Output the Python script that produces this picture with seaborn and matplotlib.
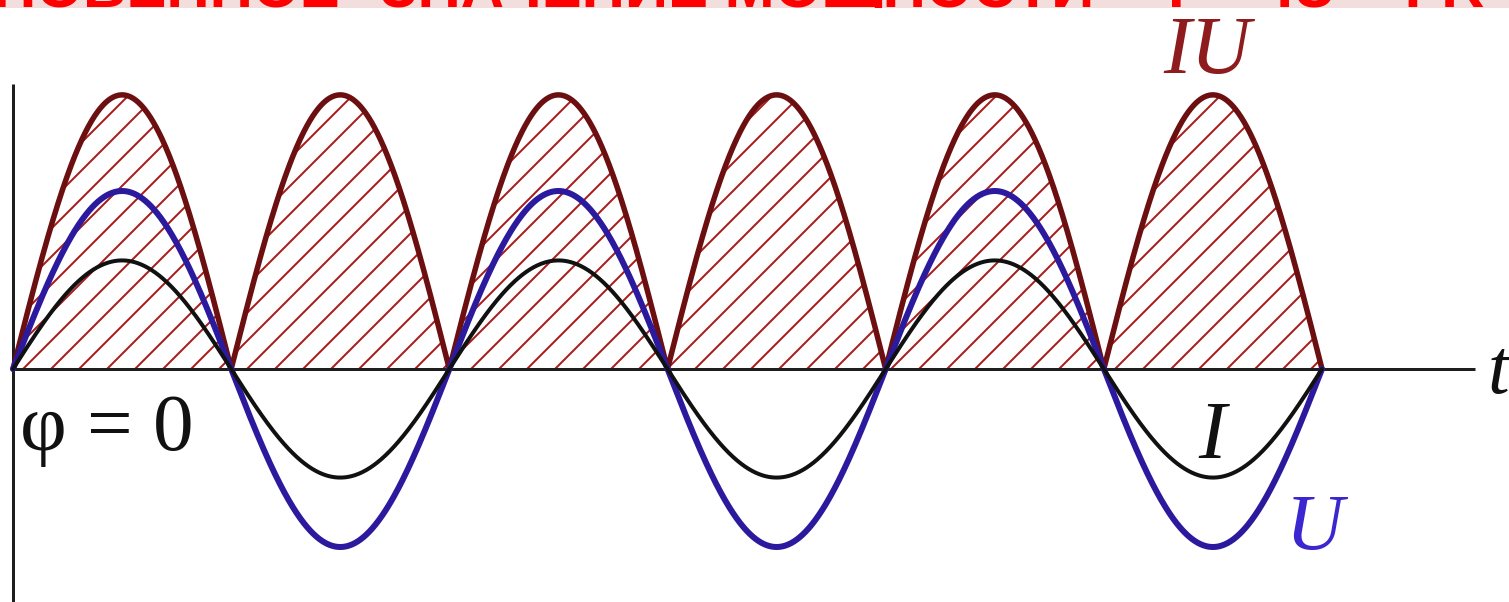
import numpy as np
import pandas as pd
import matplotlib
matplotlib.use("Agg")
import matplotlib.pyplot as plt
from matplotlib.patches import Rectangle
import seaborn as sns

# ---- values -------------------------------------------------------------
half_periods = 6          # number of half-cycles shown along t
U_amp = 1.0               # voltage amplitude
I_amp = 0.61              # current amplitude
P_amp = 1.54              # instantaneous power peak
t_axis_end = 6.70         # where the t axis line ends
v_axis_top = 1.60         # top of the vertical axis line

title_left = "МГНОВЕННОЕ"
title_mid = "ЗНАЧЕНИЕ МОЩНОСТИ"
title_right = "Р = IU = I²R"

# ---- styling ------------------------------------------------------------
W, H = 1509, 602
DPI = 168
PT = 72 / DPI             # points per pixel

sns.set_theme(style="white")
plt.rcParams["font.family"] = ["Liberation Serif", "DejaVu Serif"]
plt.rcParams["hatch.linewidth"] = 2.0 * PT

col_power_edge = "#6c0f10"
col_hatch = "#a81c1c"
col_u = "#2c1a9e"
col_i = "#111111"
col_axis = "#1e1e1e"

fig = plt.figure(figsize=(W / DPI, H / DPI), dpi=DPI)
fig.patch.set_facecolor("white")
ax = fig.add_axes([0, 0, 1, 1])
ax.set_facecolor("white")

# phase grid in half-periods
t = np.linspace(0, half_periods, 1801)
s = np.sin(np.pi * t)
df = pd.DataFrame({
    "t": t,
    "U": U_amp * s,
    "I": I_amp * s,
    "P": P_amp * np.abs(s),
})

# hatched power lobes
ax.fill_between(df["t"], 0, df["P"], facecolor="none", edgecolor=col_hatch,
                hatch="//", linewidth=0, zorder=1)

# axes lines
ax.hlines(0, 0, t_axis_end, color=col_axis, lw=3 * PT, zorder=2)
ax.vlines(0, -2, v_axis_top, color=col_axis, lw=3 * PT, zorder=2)

sns.lineplot(data=df, x="t", y="P", color=col_power_edge, lw=5.5 * PT,
             ax=ax, zorder=3, errorbar=None, legend=False)
sns.lineplot(data=df, x="t", y="U", color=col_u, lw=6 * PT,
             ax=ax, zorder=4, errorbar=None, legend=False)
sns.lineplot(data=df, x="t", y="I", color=col_i, lw=4 * PT,
             ax=ax, zorder=5, errorbar=None, legend=False)

# pixel-aligned view
x0_px, unit_x = 13, (1322 - 13) / half_periods
y0_px, unit_y = 369, 178
ax.set_xlim(-x0_px / unit_x, (W - x0_px) / unit_x)
ax.set_ylim(-(H - y0_px) / unit_y, y0_px / unit_y)
ax.axis("off")


def px(x, y):
    return x / W, 1 - y / H


serif_it = dict(family=["Liberation Serif", "DejaVu Serif"], style="italic")
ax.text(*px(1163, 73), "IU", transform=ax.transAxes, fontsize=83 * PT,
        color="#8e1b1d", va="baseline", ha="left", **serif_it)
ax.text(*px(1488, 393), "t", transform=ax.transAxes, fontsize=78 * PT,
        color="#111111", va="baseline", ha="left", **serif_it)
ax.text(*px(1198, 458), "I", transform=ax.transAxes, fontsize=83 * PT,
        color="#111111", va="baseline", ha="left", **serif_it)
ax.text(*px(1286, 550), "U", transform=ax.transAxes, fontsize=80 * PT,
        color="#3a27cf", va="baseline", ha="left", **serif_it)
ax.text(*px(20, 450), "φ = 0", transform=ax.transAxes, fontsize=81 * PT,
        color="#111111", va="baseline", ha="left",
        family=["Liberation Serif", "DejaVu Serif"])

# heading band along the top edge; the heading runs past the top of the figure
band = Rectangle((0, 1 - 8 / H), 1, 8 / H, transform=fig.transFigure,
                 facecolor="#f3dede", edgecolor="none", zorder=10)
fig.patches.append(band)
title_kw = dict(family=["Liberation Sans", "DejaVu Sans"], fontweight="bold",
                fontsize=60 * PT, color="#ff0000", va="baseline", zorder=11)
title_y = 1 - 7 / H
for xpos, txt, ha in [(340, title_left, "right"), (380, title_mid, "left"),
                      (1168, title_right, "left")]:
    tt = fig.text(xpos / W, title_y, txt, ha=ha, **title_kw)
    tt.set_clip_path(band)

fig.savefig("out.png", dpi=DPI)
